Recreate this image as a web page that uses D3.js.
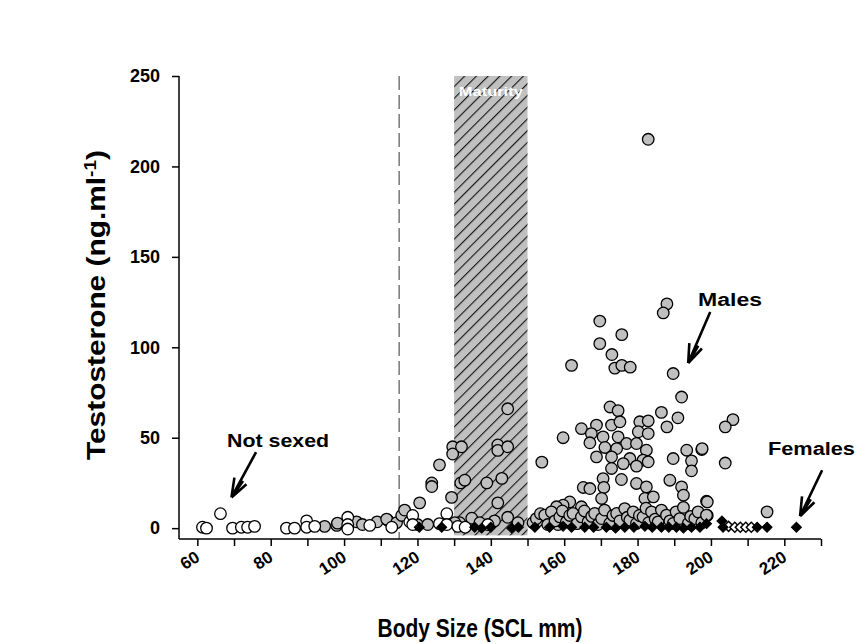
<!DOCTYPE html>
<html><head><meta charset="utf-8">
<script src="https://cdn.jsdelivr.net/npm/d3@7"></script>
<style>
body{margin:0;background:#fff;}
svg text{font-family:"Liberation Sans",Arial,sans-serif;font-weight:bold;}
</style></head>
<body><svg id="c" width="867" height="644"></svg>
<script>
// ---- data ----
const xTicks = [60,70,80,90,100,110,120,130,140,150,160,170,180,190,200,210,220,230];
const xLabels = [60,80,100,120,140,160,180,200,220];
const yTicks = [0,50,100,150,200,250];
const maturity = [130,150];
const cutoff = 115;

const notSexed = [[61.4,0.5],[62.5,0],[66.3,8],[69.6,0],[72,0.5],[73.7,0.5],[75.6,1],[84.3,0],[86.5,0],
 [89.8,4],[89.8,0.5],[92,1],[101,6],[101,2],[101,-0.5],[107,1.5],[113,0.5],[117.9,3.5],[118.7,7],
 [118.7,2],[126,2.5],[128,8],[128,2],[131,1],[139.2,2],[133,0.5]];

const males = [[94.7,1],[98,1.5],[98.2,2.8],[103.4,3.5],[105,2],[109,3.5],[111.9,4.4],[111.6,5],
 [114.3,3],[115.7,7],[116.5,10],[120,2],[120.6,14],[122.8,2],[123.9,25],[123.9,23],[126,35],
 [129.3,17],[129.6,45],[129.6,41],[132,45],[131.8,25],[132.9,26.5],[131.5,3],[134.8,5.5],[130.2,3],
 [138.9,25],[141.9,46],[141.9,43],[144.6,45],[143,27.5],[141.9,14],[144.6,66],[144.6,6],[147.4,3],
 [141,4],[137,3],[152.8,4],[153.9,36.5],[155.5,6],[158.3,2],
 [182.9,215],[188,124],[187,119],[169.7,114.5],[175.7,107],[169.7,102],[173,96],[173.8,88.5],
 [175.7,90],[178,89],[162,90],[189.7,85.5],[192,72.5],[191,61],[186.5,64],[188,56],[172.5,67],[174.7,65],
 [159.7,50],[164.7,55],[168.8,57],[172.9,57],[175.2,58.8],[180.6,58.8],[182.9,59.3],[180.2,53.3],
 [182.9,52.3],[167.4,52.3],[170.6,50.5],[174.7,50.5],[177,46.8],[167,47.2],[171.1,44.6],[174.3,44],
 [179.7,46.8],[182.4,43.1],[168.8,39.4],[172.9,39.4],[177.9,38.5],[181.5,37.6],[182.9,36.7],[176.1,35.7],
 [179.7,34.3],[172.9,33],[193.4,43.1],[197.5,43.5],[189.7,38.5],[194.7,37.2],[194.7,31.7],[170.6,27.4],
 [175.6,26.9],[179.7,24.7],[188.8,26.5],[165.2,22.5],[167,21.9],[170.8,22.5],[182.4,22.8],[192,22.8],
 [192.5,18.2],[182,16.4],[184.3,17.3],[170.2,16.4],[198.8,14.9],[161.5,14.5],[159.7,12.7],[157.9,11.8],
 [164.7,11.8],[206,60],[203.9,56],[203.9,36],[197.6,44],[199,14.5],[199,7],[195.7,6],[215.3,9],
 [151.5,3],[152.4,5.3],[153.5,8],[154.7,7.2],[155.5,2],[156.5,9],[157.5,4],[158.8,6.2],[159.5,9.5],
 [160.6,3.5],[161.5,7],[162.4,8.1],[163.5,2.5],[164.7,6.2],[165.5,9.5],[166.5,3.5],[167.5,6.5],
 [168.3,8.1],[169.2,2],[170.2,5.3],[171,10],[172.4,2.6],[173.3,7],[174.3,8.1],[175.2,4],[176.5,10.8],
 [177.2,6],[177.9,4.4],[178.8,9],[179.7,2.6],[180.5,7],[181.5,6.2],[182.3,11],[183,3],[183.8,9],
 [184.8,5],[185.6,3.5],[186.5,10],[187.9,7.2],[188.8,4],[189.7,2.6],[190.5,9],[191.5,5.3],[192.5,11.5],
 [193.8,2.6],[194.5,6.5],[195.6,5.3],[196.5,9],[197.5,3],[198.8,7.2]];

const females = [[120.5,0.5],[126.6,0.5],[135.6,0.5],[137.5,0],[140,0.5],[145.7,0],[147.5,0.5],
 [152,0.5],[156,0.5],[159.7,1],[162,0.5],[165.6,0.5],[168,0.5],[171.5,0.5],[174,0],[176.5,0.5],
 [179,0.5],[182,1],[184,0.5],[186.5,0.5],[188.5,0.5],[190.6,0.5],[192.5,0],[194.7,0.5],[197,0.5],
 [198.8,2.5],[203.3,0.5],[203,4],[212.6,0.5],[215.3,0.5],[223.3,0.5]];
const femalesOpen = [[204.8,1],[206.5,0.5],[208,0.5],[209.5,0.5],[211,0.5]];

const labels = [
 {text:"Not sexed", x:82, y:44.8, w:102, from:[76,42], to:[69.3,17]},
 {text:"Males", x:205.2, y:122.8, w:64, from:[199.8,119.5], to:[193.8,91.3]},
 {text:"Females", x:227.4, y:40.4, w:87, from:[230.3,32], to:[224.3,6.6]}
];

// ---- chart ----
const svg = d3.select("#c");
const x = d3.scaleLinear().domain([55,230]).range([179,821]);
const y = d3.scaleLinear().domain([-6,250]).range([539,76]);

// hatch pattern
const defs = svg.append("defs");
const pat = defs.append("pattern").attr("id","hatch").attr("patternUnits","userSpaceOnUse")
  .attr("width",8.3).attr("height",8.3).attr("patternTransform","rotate(45)");
pat.append("rect").attr("width",8.3).attr("height",8.3).attr("fill","#c0c0c0");
pat.append("line").attr("x1",0.6).attr("y1",0).attr("x2",0.6).attr("y2",8.3)
  .attr("stroke","#000").attr("stroke-width",1);

svg.append("rect").attr("x",x(maturity[0])).attr("y",y(250))
  .attr("width",x(maturity[1])-x(maturity[0])).attr("height",y(-4)-y(250))
  .attr("fill","url(#hatch)");
svg.append("text").attr("x",x(140)).attr("y",y(239)).attr("text-anchor","middle")
  .attr("fill","#fff").attr("font-size",13).attr("textLength",64).attr("lengthAdjust","spacingAndGlyphs")
  .text("Maturity");

svg.append("line").attr("x1",x(cutoff)).attr("x2",x(cutoff)).attr("y1",y(250)).attr("y2",y(-6))
  .attr("stroke","#333").attr("stroke-width",1).attr("stroke-dasharray","14,5");

// axes
const yAxis = d3.axisLeft(y).tickValues(yTicks).tickSize(7).tickPadding(12);
const gy = svg.append("g").attr("transform","translate(179,0)").call(yAxis);
gy.select(".domain").attr("d",`M0,${y(250)}V${y(-6)}`).attr("stroke","#000").attr("stroke-width",1.5);
gy.selectAll(".tick line").attr("stroke-width",1.5);
gy.selectAll("text").attr("font-size",18).attr("font-family","Liberation Sans, Arial").attr("font-weight","bold");

const xAxis = d3.axisBottom(x).tickValues(xTicks).tickSize(7).tickFormat(d=>xLabels.includes(d)?d:"");
const gx = svg.append("g").attr("transform",`translate(0,${y(-6)})`).call(xAxis);
gx.select(".domain").attr("d",`M${x(55)},0H${x(230)}`).attr("stroke","#000").attr("stroke-width",1.5);
gx.selectAll(".tick line").attr("stroke-width",1.5);
gx.selectAll("text").attr("font-size",17).attr("font-family","Liberation Sans, Arial").attr("font-weight","bold")
  .attr("text-anchor","end").attr("dy",0).attr("y",0)
  .attr("transform","translate(3,21) rotate(-33)");

// points
const sym = d3.symbol().type(d3.symbolCircle).size(105);
svg.append("g").selectAll("path").data(males).join("path")
  .attr("d",sym).attr("transform",d=>`translate(${x(d[0])},${y(d[1])})`)
  .attr("fill","#c0c0c0").attr("stroke","#000").attr("stroke-width",1.3);
svg.append("g").selectAll("path").data(notSexed).join("path")
  .attr("d",sym).attr("transform",d=>`translate(${x(d[0])},${y(d[1])})`)
  .attr("fill","#fff").attr("stroke","#000").attr("stroke-width",1.3);
const dsym = d3.symbol().type(d3.symbolSquare).size(50);
svg.append("g").selectAll("path").data(femalesOpen).join("path")
  .attr("d",dsym).attr("transform",d=>`translate(${x(d[0])},${y(d[1])}) rotate(45)`)
  .attr("fill","#fff").attr("stroke","#000").attr("stroke-width",1.5);
svg.append("g").selectAll("path").data(females).join("path")
  .attr("d",dsym).attr("transform",d=>`translate(${x(d[0])},${y(d[1])}) rotate(45)`)
  .attr("fill","#000").attr("stroke","#000").attr("stroke-width",1);

// annotations
labels.forEach(l=>{
  svg.append("text").attr("x",x(l.x)).attr("y",y(l.y)).attr("text-anchor","middle")
    .attr("font-size",18).attr("textLength",l.w).attr("lengthAdjust","spacingAndGlyphs").text(l.text);
  const x0=x(l.from[0]), y0=y(l.from[1]), x1=x(l.to[0]), y1=y(l.to[1]);
  const a=Math.atan2(y1-y0,x1-x0), L=20;
  const p=d3.path();
  p.moveTo(x0,y0); p.lineTo(x1,y1);
  [-0.35,0.35,0.12].forEach(da=>{p.moveTo(x1,y1); p.lineTo(x1-L*Math.cos(a+da), y1-L*Math.sin(a+da));});
  svg.append("path").attr("d",p.toString()).attr("stroke","#000").attr("stroke-width",2.6).attr("fill","none");
});

// titles
svg.append("text").attr("x",480).attr("y",637).attr("text-anchor","middle").attr("font-size",26)
  .attr("textLength",205).attr("lengthAdjust","spacingAndGlyphs")
  .text("Body Size (SCL mm)");
const yt = svg.append("text").attr("transform","translate(105,305) rotate(-90)").attr("text-anchor","middle")
  .attr("font-size",25).attr("textLength",310).attr("lengthAdjust","spacingAndGlyphs");
yt.append("tspan").text("Testosterone (ng.ml");
yt.append("tspan").attr("dy",-9).attr("font-size",16).text("-1");
yt.append("tspan").attr("dy",9).text(")");
</script></body></html>
